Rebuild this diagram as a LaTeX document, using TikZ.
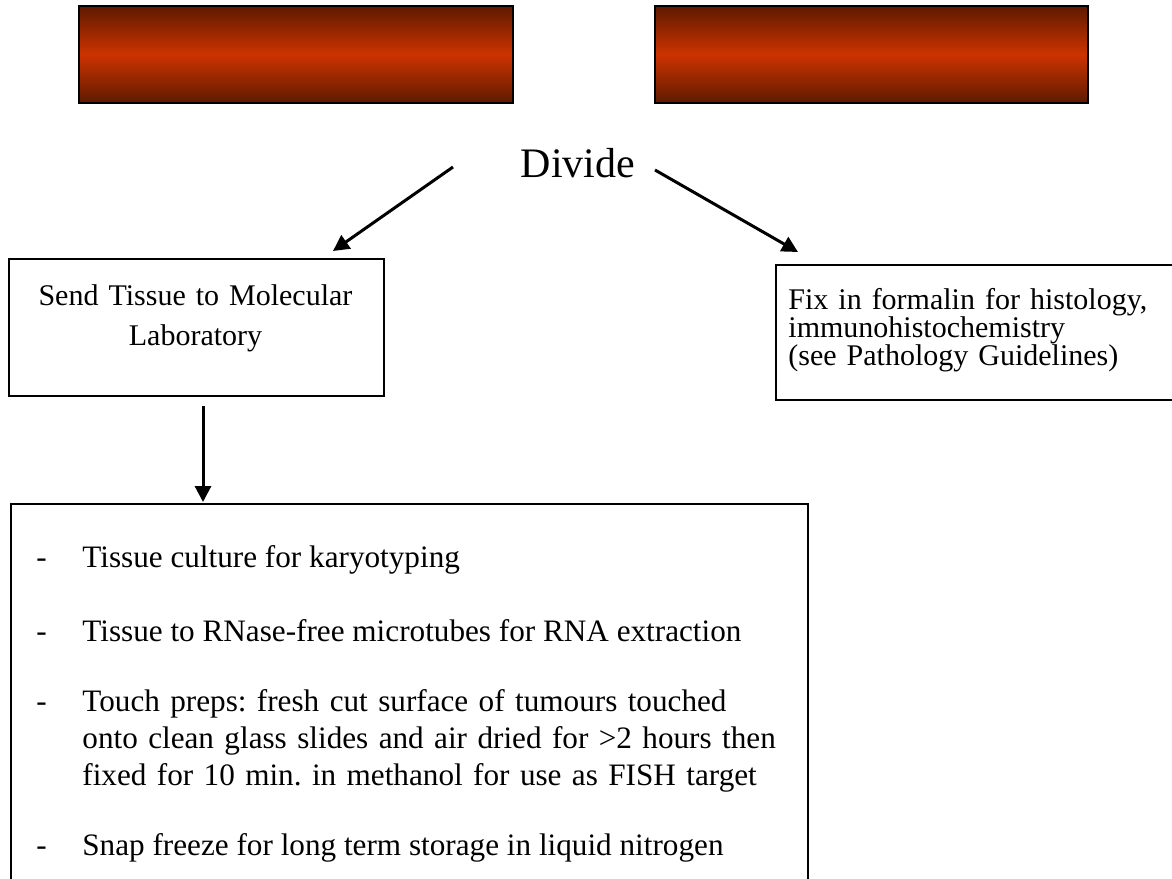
\documentclass[tikz,border=0pt]{standalone}
\usepackage{fontspec}
\setmainfont{Liberation Serif}
\usetikzlibrary{arrows.meta}
\definecolor{bardark}{HTML}{5E1A00}
\definecolor{barred}{HTML}{CC3300}
\frenchspacing

\begin{document}
\begin{tikzpicture}[
		x=0.5pt, y=-0.5pt,
		bar/.style={draw=black, line width=1pt, top color=bardark,
			bottom color=bardark, middle color=barred,
			inner sep=0pt, anchor=north west},
		box/.style={draw=black, line width=0.8pt, inner sep=0pt,
			anchor=north west},
		flow/.style={line width=1.5pt, -{Triangle[length=8pt,width=8pt]}},
		body/.style={font=\fontsize{15.6}{18.5}\selectfont, inner sep=0pt,
			anchor=base west}
	]
	\clip (0,0) rectangle (1172,878);

	% headers
	\node[bar, minimum width=217pt, minimum height=48.5pt]
		(leftbar) at (78,5) {};
	\node[bar, minimum width=216.5pt, minimum height=48.5pt]
		(rightbar) at (654,5) {};

	\node[font=\fontsize{21}{25}\selectfont, anchor=base, inner sep=0pt]
		(divide) at (578,177) {Divide};

	% boxes
	\node[box, minimum width=187.5pt, minimum height=68.5pt]
		(sendbox) at (8,258) {};
	\node[body, anchor=base, text width=187.5pt, align=center,
		font=\fontsize{15}{20}\selectfont]
		(sendtext) at (195.5,305)
			{Send Tissue to Molecular\\Laboratory};

	\node[box, minimum width=215pt, minimum height=67.5pt]
		(fixbox) at (775,264) {};
	\node[body, text width=190pt, align=left,
		font=\fontsize{15}{14}\selectfont]
		(fixtext) at (788,309)
			{Fix in formalin for histology,\\
			immunohistochemistry\\
			(see Pathology Guidelines)};

	\node[box, minimum width=398.5pt, minimum height=200pt]
		(labbox) at (10,503) {};

	% bullet list
	\node[body] (dashculture) at (36,567) {-};
	\node[body] (culture) at (82,567)
		{Tissue culture for karyotyping};
	\node[body] (dashrna) at (36,641) {-};
	\node[body] (rna) at (82,641)
		{Tissue to RNase-free microtubes for RNA extraction};
	\node[body] (dashtouch) at (36,711) {-};
	\node[body, text width=370pt, align=left] (touch) at (82,711)
		{Touch preps: fresh cut surface of tumours touched\\
		onto clean glass slides and air dried for >2 hours then\\
		fixed for 10 min. in methanol for use as FISH target};
	\node[body] (dashfreeze) at (36,855) {-};
	\node[body] (freeze) at (82,855)
		{Snap freeze for long term storage in liquid nitrogen};

	% connectors
	\coordinate (leftfrom) at (453,167);
	\coordinate (leftto) at (333,251);
	\coordinate (rightfrom) at (655,170);
	\coordinate (rightto) at (798,252);
	\coordinate (downfrom) at (203,406);
	\coordinate (downto) at (203,502);

	\draw[flow] (leftfrom) -- (leftto);
	\draw[flow] (rightfrom) -- (rightto);
	\draw[flow] (downfrom) -- (downto);
\end{tikzpicture}
\end{document}
